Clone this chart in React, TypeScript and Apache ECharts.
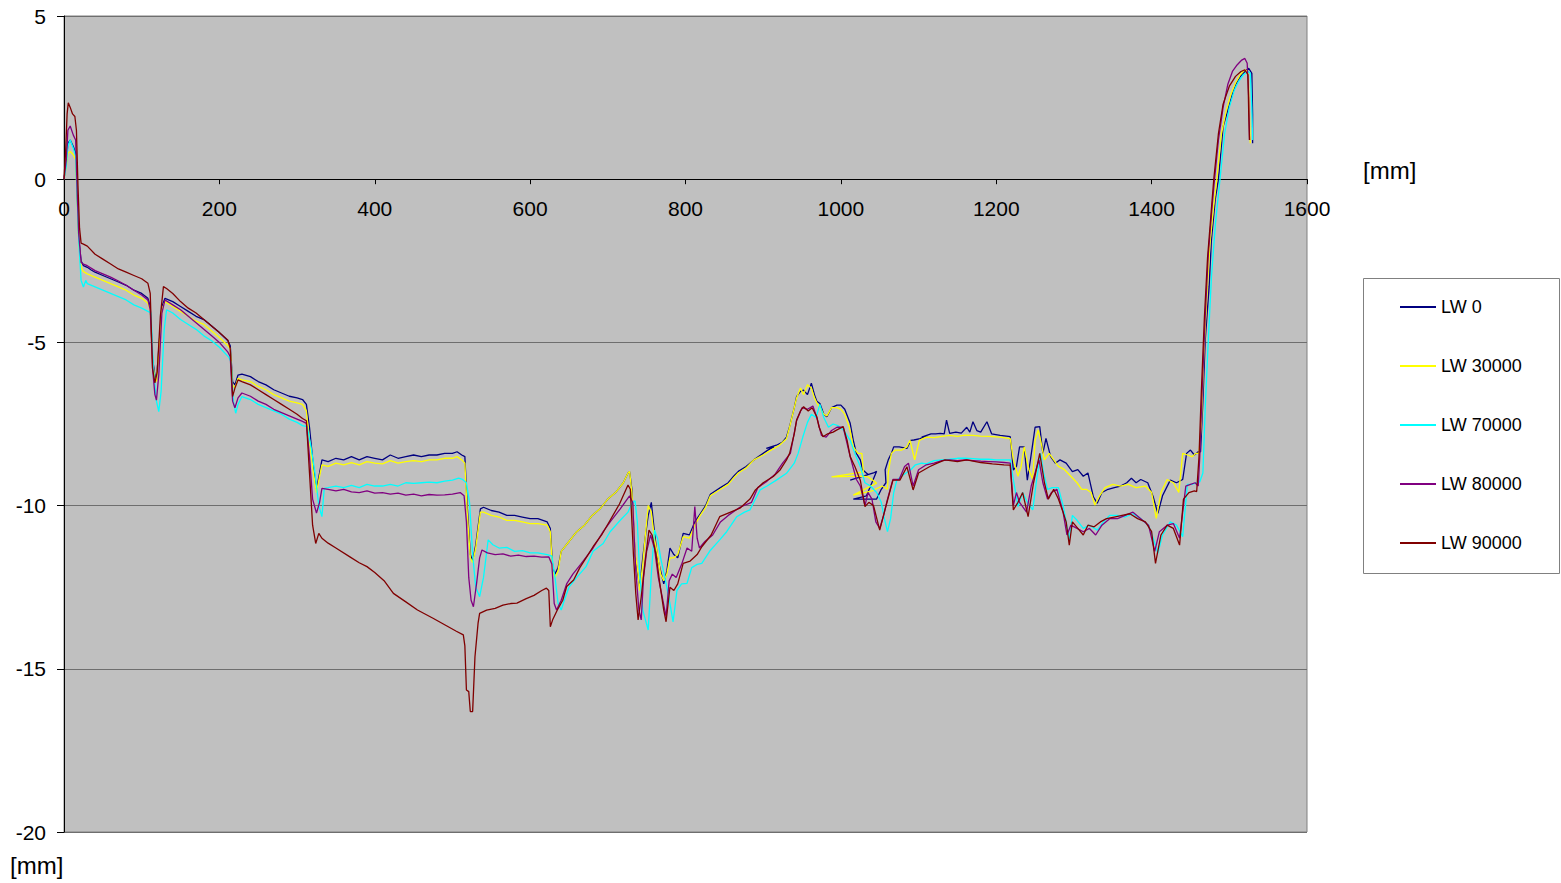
import React, { useEffect, useRef } from "react";
import * as echarts from "echarts";

const seriesNames = ["LW 0", "LW 30000", "LW 70000", "LW 80000", "LW 90000"];
const seriesColors = ["#000080", "#FFFF00", "#00FFFF", "#800080", "#800000"];
const axisUnit = "[mm]";

// [position mm, deflection mm]
const lw0: number[][] = [
  [0,0],[3,0.5],[5,1.1],[8,1.2],[12,1.0],[15,0.8],[17,-0.5],[19,-1.8],[22,-2.5],[25,-2.65],[30,-2.7],[35,-2.78],[40,-2.85],[50,-2.95],[60,-3.05],[70,-3.15],[80,-3.25],[90,-3.4],[100,-3.5],[108,-3.65],[111,-3.9],[114,-5.5],[117,-6.0],[119,-6.15],[122,-5.2],[126,-3.9],[130,-3.65],[140,-3.75],[150,-3.9],[160,-4.05],[170,-4.2],[180,-4.3],[190,-4.5],[200,-4.7],[211,-4.95],[214,-5.1],[217,-6.2],[220,-6.3],[224,-6.0],[229,-5.97],[240,-6.05],[250,-6.2],[260,-6.3],[270,-6.45],[280,-6.55],[290,-6.65],[300,-6.7],[307,-6.75],[312,-6.9],[316,-7.6],[321,-8.8],[325,-9.5],[329,-9.0],[332,-8.6],[340,-8.65],[350,-8.55],[360,-8.6],[370,-8.5],[380,-8.6],[390,-8.5],[400,-8.55],[410,-8.6],[420,-8.45],[430,-8.55],[440,-8.5],[450,-8.45],[460,-8.5],[470,-8.45],[480,-8.45],[490,-8.4],[500,-8.4],[506,-8.35],[512,-8.45],[516,-8.5],[519,-10.0],[523,-11.5],[526,-11.7],[530,-11.2],[536,-10.1],[540,-10.05],[550,-10.15],[560,-10.2],[570,-10.3],[580,-10.3],[590,-10.35],[600,-10.4],[610,-10.4],[622,-10.5],[626,-10.7],[629,-11.9],[632,-12.1],[636,-11.9],[640,-11.4],[650,-11.1],[660,-10.8],[670,-10.6],[680,-10.3],[690,-10.1],[700,-9.8],[710,-9.6],[720,-9.3],[726,-9.0],[728,-8.96],[731,-9.5],[735,-11.5],[739,-12.2],[741,-12.5],[745,-11.6],[748,-11.0],[752,-10.3],[756,-9.9],[760,-10.8],[764,-11.6],[768,-12.0],[772,-12.4],[776,-12.0],[780,-11.3],[785,-11.5],[790,-11.6],[797,-10.85],[805,-10.9],[812,-10.5],[819,-10.25],[826,-10.0],[832,-9.65],[845,-9.45],[855,-9.3],[862,-9.1],[868,-8.95],[878,-8.8],[888,-8.6],[900,-8.4],[906,-8.3],[914,-8.2],[904,-8.25],[917,-8.15],[925,-8.05],[930,-7.9],[934,-7.58],[940,-7.0],[943,-6.66],[948,-6.5],[952,-6.46],[957,-6.6],[962,-6.25],[966,-6.6],[969,-6.8],[973,-6.87],[978,-7.2],[982,-7.28],[988,-7.0],[995,-6.92],[1000,-6.92],[1005,-7.05],[1012,-7.48],[1016,-8.0],[1020,-8.4],[1025,-8.6],[1028,-8.9],[1035,-9.05],[1012,-9.22],[1042,-9.0],[1046,-8.95],[1033,-9.7],[1016,-9.8],[1046,-9.8],[1052,-9.5],[1058,-9.3],[1057,-8.9],[1061,-8.6],[1065,-8.4],[1068,-8.2],[1075,-8.2],[1085,-8.25],[1090,-8.0],[1094,-7.99],[1102,-7.95],[1112,-7.85],[1104,-7.9],[1116,-7.8],[1122,-7.8],[1128,-7.79],[1133,-7.8],[1136,-7.38],[1140,-7.79],[1148,-7.75],[1155,-7.78],[1162,-7.6],[1166,-7.75],[1170,-7.43],[1175,-7.7],[1180,-7.75],[1188,-7.43],[1194,-7.8],[1205,-7.85],[1218,-7.89],[1222,-8.91],[1226,-8.8],[1230,-8.2],[1236,-8.2],[1240,-9.22],[1244,-8.6],[1250,-7.6],[1256,-7.58],[1260,-8.4],[1264,-7.94],[1270,-8.5],[1276,-8.7],[1282,-8.6],[1290,-8.7],[1298,-8.96],[1305,-8.9],[1312,-9.1],[1318,-9.0],[1325,-9.73],[1330,-9.93],[1336,-9.6],[1344,-9.5],[1352,-9.45],[1360,-9.4],[1368,-9.3],[1374,-9.16],[1380,-9.3],[1386,-9.2],[1395,-9.3],[1402,-9.73],[1408,-10.24],[1414,-9.7],[1424,-9.22],[1432,-9.3],[1440,-9.2],[1445,-8.4],[1450,-8.3],[1455,-8.45],[1460,-8.35],[1463,-8.35],[1466,-6.8],[1469,-4.93],[1474,-3.3],[1477,-1.86],[1482,-0.6],[1486,0],[1492,1.61],[1498,2.1],[1503,2.53],[1508,2.9],[1514,3.14],[1520,3.3],[1525,3.4],[1529,3.24],[1530,2.0],[1530,1.1]
];

const lw30000: number[][] = [
  [0,0],[3,0.4],[5,0.8],[8,0.85],[12,0.75],[15,0.6],[17,-0.6],[19,-1.9],[22,-2.7],[25,-2.83],[30,-2.9],[40,-3.0],[50,-3.1],[60,-3.2],[70,-3.3],[80,-3.4],[90,-3.55],[100,-3.65],[108,-3.8],[111,-4.0],[114,-5.6],[117,-6.1],[119,-6.2],[122,-5.3],[126,-4.0],[130,-3.75],[140,-3.9],[150,-4.05],[160,-4.2],[170,-4.35],[180,-4.45],[190,-4.65],[200,-4.85],[211,-5.1],[214,-5.2],[217,-6.3],[220,-6.4],[224,-6.1],[229,-6.15],[240,-6.2],[250,-6.35],[260,-6.45],[270,-6.6],[280,-6.7],[290,-6.8],[300,-6.85],[307,-6.9],[312,-7.1],[316,-8.0],[321,-9.0],[325,-9.6],[329,-9.1],[332,-8.75],[340,-8.8],[350,-8.7],[360,-8.75],[370,-8.68],[380,-8.75],[390,-8.65],[400,-8.7],[410,-8.72],[420,-8.62],[430,-8.7],[440,-8.65],[450,-8.62],[460,-8.65],[470,-8.6],[480,-8.6],[490,-8.55],[500,-8.55],[506,-8.5],[512,-8.6],[516,-8.7],[519,-10.2],[523,-11.6],[526,-11.75],[530,-11.3],[536,-10.2],[540,-10.2],[550,-10.3],[560,-10.35],[570,-10.45],[580,-10.45],[590,-10.5],[600,-10.55],[610,-10.55],[622,-10.6],[626,-10.8],[629,-12.0],[632,-12.2],[636,-12.0],[640,-11.4],[650,-11.1],[660,-10.8],[670,-10.6],[680,-10.3],[690,-10.1],[700,-9.8],[710,-9.6],[720,-9.3],[726,-9.0],[728,-8.95],[731,-9.6],[735,-11.4],[739,-12.1],[741,-12.6],[745,-11.8],[748,-11.0],[752,-10.0],[756,-10.2],[760,-11.0],[764,-11.5],[768,-12.1],[772,-12.3],[776,-12.1],[780,-11.6],[785,-11.6],[790,-11.5],[797,-10.95],[805,-11.0],[812,-10.6],[819,-10.3],[826,-10.05],[832,-9.7],[845,-9.5],[855,-9.35],[862,-9.15],[868,-9.0],[878,-8.85],[888,-8.6],[900,-8.45],[910,-8.3],[921,-8.15],[930,-7.95],[934,-7.6],[940,-7.0],[943,-6.7],[948,-6.4],[952,-6.6],[957,-6.3],[962,-6.4],[966,-6.7],[969,-6.85],[973,-7.0],[978,-7.2],[982,-7.25],[988,-7.0],[995,-7.0],[1000,-7.05],[1005,-7.2],[1011,-7.6],[1016,-8.2],[1022,-8.4],[1027,-8.4],[1029,-8.97],[988,-9.12],[1028,-9.1],[1035,-9.12],[1046,-9.31],[1016,-9.68],[1040,-9.55],[1053,-9.4],[1060,-9.5],[1061,-9.0],[1065,-8.4],[1070,-8.3],[1078,-8.3],[1085,-8.2],[1089,-8.0],[1095,-8.6],[1101,-8.0],[1110,-7.9],[1120,-7.92],[1130,-7.88],[1140,-7.85],[1150,-7.88],[1160,-7.84],[1170,-7.85],[1180,-7.87],[1190,-7.88],[1205,-7.9],[1218,-7.95],[1222,-8.6],[1228,-9.1],[1232,-8.8],[1236,-8.2],[1242,-8.9],[1247,-9.2],[1250,-8.0],[1254,-7.68],[1258,-8.1],[1262,-8.6],[1268,-8.4],[1274,-8.6],[1280,-8.8],[1288,-8.9],[1296,-9.1],[1304,-9.3],[1310,-9.5],[1316,-9.5],[1322,-9.6],[1327,-9.98],[1333,-9.7],[1340,-9.45],[1350,-9.35],[1360,-9.4],[1370,-9.35],[1380,-9.45],[1392,-9.4],[1400,-9.6],[1406,-10.39],[1412,-9.6],[1420,-9.2],[1428,-9.3],[1435,-9.6],[1440,-8.4],[1446,-8.45],[1452,-8.5],[1457,-8.4],[1461,-8.4],[1464,-7.5],[1467,-5.5],[1471,-3.6],[1475,-2.0],[1480,-0.8],[1484,0],[1490,1.4],[1496,2.1],[1502,2.6],[1508,2.95],[1514,3.2],[1520,3.35],[1524,3.3],[1526,2.0],[1527,1.1]
];

const lw70000: number[][] = [
  [0,0],[3,0.4],[5,1.0],[8,1.2],[12,0.95],[15,0.7],[17,-0.6],[19,-1.9],[22,-3.1],[25,-3.3],[28,-3.1],[30,-3.2],[40,-3.3],[50,-3.4],[60,-3.5],[70,-3.6],[80,-3.7],[90,-3.85],[100,-3.95],[108,-4.05],[112,-4.1],[115,-5.8],[119,-6.8],[122,-7.12],[125,-6.5],[129,-4.6],[132,-4.0],[140,-4.1],[150,-4.3],[160,-4.45],[170,-4.6],[180,-4.8],[190,-4.95],[200,-5.15],[212,-5.45],[215,-5.6],[218,-6.8],[221,-7.17],[224,-6.9],[229,-6.66],[240,-6.75],[250,-6.9],[260,-7.0],[270,-7.1],[280,-7.2],[290,-7.35],[300,-7.45],[307,-7.55],[313,-7.58],[318,-8.2],[323,-9.0],[328,-10.0],[332,-10.34],[335,-9.47],[340,-9.45],[350,-9.4],[360,-9.45],[370,-9.38],[380,-9.45],[390,-9.35],[400,-9.4],[410,-9.4],[420,-9.35],[430,-9.4],[440,-9.3],[450,-9.32],[460,-9.3],[470,-9.28],[480,-9.3],[490,-9.25],[500,-9.22],[508,-9.16],[513,-9.2],[518,-9.3],[522,-9.9],[526,-11.5],[530,-12.5],[535,-12.79],[540,-12.2],[546,-11.05],[552,-11.2],[560,-11.3],[570,-11.28],[580,-11.4],[590,-11.38],[600,-11.45],[610,-11.45],[622,-11.5],[628,-11.55],[632,-12.2],[636,-13.0],[640,-13.2],[644,-12.9],[650,-12.5],[660,-12.2],[672,-11.87],[681,-11.4],[694,-11.16],[703,-10.8],[716,-10.45],[726,-10.2],[731,-9.93],[735,-9.85],[738,-10.5],[741,-12.07],[745,-13.2],[752,-13.81],[756,-12.1],[760,-10.75],[764,-11.0],[768,-11.6],[775,-12.38],[780,-13.0],[784,-13.56],[789,-12.6],[795,-12.4],[802,-12.38],[808,-11.9],[815,-11.8],[821,-11.77],[831,-11.4],[844,-11.05],[853,-10.8],[866,-10.34],[876,-10.2],[883,-10.13],[890,-9.8],[896,-9.52],[905,-9.4],[917,-9.22],[930,-9.01],[940,-8.7],[945,-8.4],[951,-7.9],[957,-7.45],[962,-7.2],[968,-7.3],[973,-6.9],[978,-7.3],[984,-7.6],[990,-7.5],[996,-7.55],[1004,-7.7],[1012,-8.0],[1018,-8.4],[1025,-8.8],[1031,-9.3],[1038,-9.4],[1046,-9.6],[1052,-9.9],[1056,-10.4],[1060,-10.8],[1064,-10.4],[1068,-9.6],[1072,-9.22],[1078,-9.1],[1084,-9.0],[1090,-8.9],[1096,-8.75],[1104,-8.7],[1110,-8.72],[1120,-8.62],[1130,-8.6],[1140,-8.58],[1150,-8.55],[1160,-8.55],[1170,-8.56],[1180,-8.58],[1190,-8.58],[1200,-8.6],[1210,-8.6],[1218,-8.6],[1222,-9.2],[1228,-10.03],[1234,-9.6],[1240,-9.9],[1247,-10.13],[1252,-9.2],[1257,-8.4],[1261,-9.0],[1266,-9.5],[1272,-9.45],[1280,-9.45],[1286,-10.0],[1290,-10.5],[1294,-11.05],[1298,-10.3],[1304,-10.45],[1312,-10.7],[1320,-10.6],[1330,-10.75],[1338,-10.5],[1346,-10.3],[1356,-10.3],[1366,-10.35],[1376,-10.25],[1386,-10.4],[1396,-10.6],[1402,-11.0],[1408,-11.46],[1414,-10.9],[1424,-10.5],[1432,-10.6],[1440,-10.95],[1446,-9.35],[1452,-9.35],[1458,-9.3],[1462,-9.27],[1466,-9.0],[1469,-7.0],[1473,-4.9],[1477,-3.0],[1482,-1.4],[1488,0],[1494,1.4],[1500,2.2],[1506,2.7],[1512,3.0],[1518,3.2],[1524,3.3],[1527,3.25],[1529,2.2],[1530,1.2]
];

const lw80000: number[][] = [
  [0,0],[3,0.6],[5,1.5],[8,1.63],[12,1.35],[15,1.2],[17,-0.4],[19,-1.7],[22,-2.55],[25,-2.6],[30,-2.65],[40,-2.8],[50,-2.9],[60,-3.0],[70,-3.12],[80,-3.25],[90,-3.4],[100,-3.55],[108,-3.7],[111,-4.0],[114,-5.8],[117,-6.6],[119,-6.77],[122,-6.0],[126,-4.1],[130,-3.7],[140,-3.85],[150,-4.0],[160,-4.2],[170,-4.4],[180,-4.6],[190,-4.8],[200,-5.0],[211,-5.3],[214,-5.44],[217,-6.8],[220,-7.0],[224,-6.7],[229,-6.55],[240,-6.65],[250,-6.8],[260,-6.9],[270,-7.05],[280,-7.15],[290,-7.25],[300,-7.35],[307,-7.42],[312,-7.48],[316,-8.5],[320,-9.8],[325,-10.23],[329,-9.9],[332,-9.47],[340,-9.5],[350,-9.55],[360,-9.5],[370,-9.58],[380,-9.6],[390,-9.55],[400,-9.62],[410,-9.6],[420,-9.65],[430,-9.62],[440,-9.68],[450,-9.65],[460,-9.7],[470,-9.66],[480,-9.68],[490,-9.67],[500,-9.65],[510,-9.6],[515,-9.7],[518,-10.5],[521,-12.2],[524,-12.9],[527,-13.1],[531,-12.4],[535,-11.6],[538,-11.36],[545,-11.45],[555,-11.5],[565,-11.48],[575,-11.55],[585,-11.52],[595,-11.56],[605,-11.55],[615,-11.58],[624,-11.57],[628,-11.8],[631,-13.0],[634,-13.2],[640,-12.9],[647,-12.4],[655,-12.1],[665,-11.8],[681,-11.3],[694,-10.8],[703,-10.5],[716,-10.1],[728,-9.7],[732,-9.9],[736,-12.0],[740,-13.2],[743,-13.5],[746,-12.2],[750,-11.4],[755,-10.9],[760,-11.3],[765,-12.2],[770,-12.8],[775,-13.4],[779,-12.3],[783,-12.1],[788,-12.2],[795,-11.8],[802,-11.3],[808,-11.4],[812,-10.03],[815,-11.0],[818,-11.3],[825,-11.1],[835,-10.9],[845,-10.5],[855,-10.3],[870,-10.05],[885,-9.9],[893,-9.45],[905,-9.25],[915,-9.05],[925,-8.7],[935,-8.4],[943,-7.4],[950,-7.0],[957,-7.05],[964,-6.95],[969,-7.3],[975,-7.85],[981,-7.9],[988,-7.7],[995,-7.6],[1003,-7.6],[1012,-8.5],[1020,-9.2],[1025,-9.4],[1031,-10.0],[1035,-9.6],[1040,-9.8],[1045,-10.5],[1050,-10.7],[1055,-10.3],[1060,-9.8],[1067,-9.2],[1075,-9.2],[1082,-8.8],[1087,-8.7],[1093,-9.4],[1100,-8.9],[1110,-8.75],[1120,-8.7],[1130,-8.62],[1140,-8.6],[1150,-8.62],[1160,-8.6],[1170,-8.62],[1180,-8.64],[1190,-8.65],[1200,-8.66],[1210,-8.68],[1218,-8.7],[1222,-10.0],[1226,-9.6],[1230,-9.9],[1239,-10.2],[1245,-9.4],[1255,-8.6],[1260,-9.3],[1266,-9.8],[1271,-9.6],[1278,-9.5],[1286,-10.2],[1291,-10.9],[1296,-10.6],[1304,-10.7],[1312,-10.8],[1320,-10.7],[1328,-10.9],[1336,-10.6],[1346,-10.4],[1356,-10.4],[1366,-10.3],[1376,-10.2],[1386,-10.4],[1396,-10.6],[1404,-11.4],[1410,-10.8],[1420,-10.6],[1428,-10.55],[1436,-11.0],[1444,-9.4],[1450,-9.35],[1456,-9.3],[1460,-9.4],[1462,-8.5],[1465,-6.5],[1469,-4.2],[1473,-2.3],[1478,-0.8],[1481,0],[1486,1.2],[1492,2.2],[1498,2.9],[1504,3.3],[1510,3.5],[1516,3.65],[1520,3.7],[1523,3.55],[1525,2.5],[1526,1.2]
];

const lw90000: number[][] = [
  [0,0],[2,0.8],[4,2.0],[5.5,2.34],[8,2.2],[11,2.0],[14,1.92],[16,1.5],[18,-0.2],[20,-1.5],[22,-1.96],[25,-1.99],[30,-2.05],[40,-2.3],[50,-2.45],[60,-2.6],[70,-2.75],[80,-2.85],[90,-2.95],[100,-3.05],[108,-3.19],[111,-3.5],[114,-5.8],[117,-6.24],[120,-5.9],[124,-4.2],[128,-3.29],[132,-3.35],[140,-3.5],[150,-3.75],[160,-3.95],[170,-4.1],[180,-4.3],[190,-4.5],[200,-4.7],[211,-4.93],[214,-5.2],[217,-6.66],[220,-6.4],[224,-6.15],[229,-6.2],[240,-6.3],[250,-6.45],[260,-6.6],[270,-6.75],[280,-6.9],[290,-7.05],[300,-7.2],[307,-7.33],[312,-7.4],[316,-9.0],[320,-10.6],[324,-11.16],[328,-10.85],[332,-11.0],[340,-11.15],[350,-11.3],[368,-11.57],[380,-11.75],[390,-11.87],[400,-12.05],[412,-12.3],[424,-12.69],[440,-12.95],[455,-13.2],[475,-13.45],[490,-13.65],[505,-13.85],[514,-13.96],[516,-14.3],[518,-15.65],[521,-15.7],[523,-16.31],[526,-16.31],[529,-14.63],[533,-13.6],[535,-13.3],[544,-13.2],[555,-13.15],[565,-13.05],[575,-13.0],[583,-12.99],[595,-12.85],[605,-12.75],[615,-12.6],[621,-12.53],[624,-12.6],[626,-13.71],[629,-13.5],[635,-13.2],[642,-12.9],[647,-12.48],[656,-12.28],[664,-11.9],[672,-11.6],[681,-11.26],[692,-10.9],[703,-10.45],[715,-9.95],[726,-9.37],[729,-9.5],[733,-11.5],[736,-12.7],[739,-13.5],[743,-12.8],[748,-11.7],[753,-10.75],[757,-10.9],[762,-11.5],[767,-12.4],[772,-13.2],[775,-13.56],[780,-12.5],[785,-12.6],[790,-12.4],[797,-11.77],[806,-11.7],[815,-11.5],[821,-11.26],[833,-10.9],[844,-10.34],[858,-10.2],[870,-10.08],[883,-9.8],[890,-9.52],[900,-9.3],[913,-9.11],[922,-8.9],[930,-8.6],[934,-8.4],[940,-7.8],[943,-7.38],[948,-7.1],[952,-6.97],[958,-7.1],[963,-7.0],[969,-7.28],[972,-7.6],[977,-7.89],[983,-7.8],[990,-7.75],[995,-7.68],[1003,-7.58],[1008,-8.0],[1012,-8.5],[1018,-8.8],[1025,-9.22],[1031,-10.03],[1036,-9.9],[1042,-10.0],[1050,-10.75],[1056,-10.2],[1067,-9.22],[1076,-9.22],[1085,-8.81],[1093,-9.52],[1100,-9.0],[1114,-8.81],[1124,-8.7],[1134,-8.6],[1150,-8.65],[1162,-8.6],[1180,-8.68],[1195,-8.72],[1210,-8.75],[1218,-8.76],[1222,-10.13],[1228,-9.9],[1234,-9.6],[1241,-10.34],[1248,-9.3],[1256,-8.4],[1262,-9.3],[1267,-9.8],[1274,-9.5],[1280,-9.8],[1286,-10.2],[1290,-10.5],[1294,-11.21],[1298,-10.5],[1305,-10.7],[1312,-10.9],[1318,-10.6],[1326,-10.65],[1334,-10.5],[1342,-10.4],[1352,-10.35],[1362,-10.3],[1372,-10.25],[1382,-10.4],[1392,-10.5],[1400,-10.8],[1405,-11.77],[1412,-10.9],[1420,-10.6],[1428,-10.7],[1436,-11.21],[1441,-9.8],[1448,-9.6],[1455,-9.55],[1458,-9.57],[1461,-8.5],[1464,-6.5],[1468,-4.2],[1472,-2.4],[1477,-0.9],[1480,0],[1486,1.4],[1492,2.3],[1500,2.85],[1508,3.15],[1515,3.3],[1520,3.35],[1524,3.2],[1525,2.0],[1526,1.2]
];

const seriesData = [lw0, lw30000, lw70000, lw80000, lw90000];

const FONT = "'Liberation Sans', Arial, sans-serif";
const Y_MIN = -20;
const Y_MAX = 5;
const GRID_TOP = 16;
const GRID_BOTTOM = 51;
const CHART_H = 883;

export default function App() {
  const ref = useRef<HTMLDivElement>(null);
  useEffect(() => {
    if (!ref.current) return;
    const chart = echarts.init(ref.current, undefined, { renderer: "svg" });
    const plotH = CHART_H - GRID_TOP - GRID_BOTTOM;
    // shift the x axis from the bottom edge up to the y = 0 line
    const zeroOffset = -plotH * (0 - Y_MIN) / (Y_MAX - Y_MIN);
    chart.setOption({
      animation: false,
      backgroundColor: "#ffffff",
      grid: {
        left: 64,
        top: GRID_TOP,
        right: 254,
        bottom: GRID_BOTTOM,
        show: true,
        backgroundColor: "#C0C0C0",
        borderColor: "#808080",
        borderWidth: 1,
      },
      xAxis: {
        type: "value",
        position: "bottom",
        offset: zeroOffset,
        min: 0,
        max: 1600,
        interval: 200,
        axisLine: { onZero: false, lineStyle: { color: "#000", width: 1 } },
        axisTick: { show: true, length: 5, lineStyle: { color: "#000" } },
        axisLabel: {
          color: "#000",
          fontSize: 21,
          fontFamily: FONT,
          margin: 19,
          formatter: (v: number) => String(v),
        },
        splitLine: { show: false },
      },
      yAxis: {
        type: "value",
        min: Y_MIN,
        max: Y_MAX,
        interval: 5,
        axisLine: { show: true, onZero: false, lineStyle: { color: "#000", width: 1 } },
        axisTick: { show: true, length: 7, lineStyle: { color: "#000" } },
        axisLabel: { color: "#000", fontSize: 21, fontFamily: FONT, margin: 18 },
        splitLine: { show: true, lineStyle: { color: "#6e6e6e", width: 1 } },
      },
      legend: {
        orient: "vertical",
        left: 1400,
        top: 298,
        padding: 0,
        itemWidth: 36,
        itemHeight: 2,
        itemGap: 41,
        icon: "rect",
        data: seriesNames,
        textStyle: { color: "#000", fontSize: 18, fontFamily: FONT },
      },
      graphic: [
        {
          type: "rect",
          z: -1,
          shape: { x: 1363.5, y: 278.5, width: 196, height: 295 },
          style: { fill: "#ffffff", stroke: "#808080", lineWidth: 1 },
        },
        {
          type: "text",
          left: 1363,
          top: 158,
          style: { text: axisUnit, fill: "#000", fontSize: 24, fontFamily: FONT },
        },
        {
          type: "text",
          left: 10,
          top: 853,
          style: { text: axisUnit, fill: "#000", fontSize: 24, fontFamily: FONT },
        },
      ],
      series: seriesNames.map((name, i) => ({
        name,
        type: "line",
        data: seriesData[i],
        showSymbol: false,
        symbol: "none",
        lineStyle: { color: seriesColors[i], width: 1.3 },
        itemStyle: { color: seriesColors[i] },
        z: 2 + i,
      })),
    });
    return () => chart.dispose();
  }, []);
  return (
    <div
      ref={ref}
      style={{ position: "fixed", left: 0, top: 0, width: 1561, height: 883 }}
    />
  );
}
